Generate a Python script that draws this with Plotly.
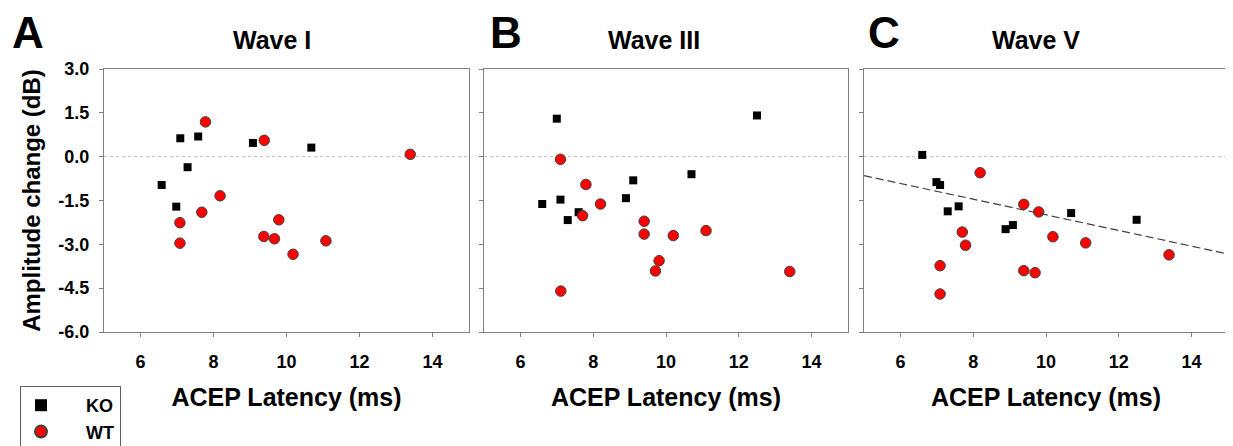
import plotly.graph_objects as go

# ---------------- data ----------------
# Wave I
a_ko_x = [7.09, 7.58, 9.08, 10.68, 7.29, 6.58, 6.98]
a_ko_y = [0.63, 0.69, 0.47, 0.31, -0.36, -0.97, -1.71]
a_wt_x = [7.78, 9.39, 13.39, 8.18, 7.68, 7.08, 7.08, 9.79, 9.38, 9.67, 10.18, 11.08]
a_wt_y = [1.19, 0.56, 0.08, -1.34, -1.90, -2.26, -2.96, -2.16, -2.73, -2.81, -3.34, -2.88]
# Wave III
b_ko_x = [7.00, 12.50, 10.70, 9.10, 8.90, 7.10, 6.60, 7.60, 7.30]
b_ko_y = [1.30, 1.41, -0.60, -0.81, -1.42, -1.47, -1.62, -1.90, -2.17]
b_wt_x = [7.10, 7.80, 8.20, 7.71, 9.40, 9.40, 10.20, 11.10, 9.81, 9.71, 13.40, 7.11]
b_wt_y = [-0.09, -0.95, -1.62, -2.02, -2.21, -2.65, -2.70, -2.53, -3.56, -3.91, -3.93, -4.60]
# Wave V
c_ko_x = [6.60, 6.99, 7.09, 7.30, 7.60, 8.89, 9.09, 10.69, 12.49]
c_ko_y = [0.06, -0.87, -0.97, -1.87, -1.70, -2.48, -2.34, -1.93, -2.16]
c_wt_x = [8.19, 9.39, 9.80, 7.70, 7.79, 10.19, 11.09, 13.38, 7.09, 9.39, 9.70, 7.09]
c_wt_y = [-0.55, -1.63, -1.89, -2.58, -3.03, -2.74, -2.95, -3.36, -3.73, -3.90, -3.97, -4.70]
# regression line (Wave V)
c_fit_x = [5.0, 15.0]
c_fit_y = [-0.65, -3.33]

panel_titles = ["Wave I", "Wave III", "Wave V"]
panel_letters = ["A", "B", "C"]
x_ticks = [6, 8, 10, 12, 14]
y_ticks = [3.0, 1.5, 0.0, -1.5, -3.0, -4.5, -6.0]
y_ticklabels = ["3.0", "1.5", "0.0", "-1.5", "-3.0", "-4.5", "-6.0"]
x_title = "ACEP Latency (ms)"
y_title = "Amplitude change (dB)"

# ---------------- figure ----------------
# the page body has an 8px default margin, so the figure is drawn 8px in
OFF = 8
W, H = 1233 - OFF, 446 - OFF
FONT = "Liberation Sans, Arial, sans-serif"
FRAME = "#808080"


def fx(px):
    return (px - OFF) / W


def fy(py):
    return 1 - (py - OFF) / H


panels = [
    (a_ko_x, a_ko_y, a_wt_x, a_wt_y),
    (b_ko_x, b_ko_y, b_wt_x, b_wt_y),
    (c_ko_x, c_ko_y, c_wt_x, c_wt_y),
]
xdomains = [(fx(104), fx(469)), (fx(484), fx(848)), (fx(864), fx(1228))]
ydomain = (fy(332), fy(69))

fig = go.Figure()

for i, (kx, ky, wx, wy) in enumerate(panels):
    xa = "x" if i == 0 else f"x{i+1}"
    ya = "y" if i == 0 else f"y{i+1}"
    fig.add_trace(go.Scatter(
        x=kx, y=ky, mode="markers", name="\u00a0" * 5 + "<b>KO</b>",
        marker=dict(symbol="square", size=8, color="black", line=dict(width=0)),
        xaxis=xa, yaxis=ya, showlegend=(i == 0), legendgroup="ko"))
    fig.add_trace(go.Scatter(
        x=wx, y=wy, mode="markers", name="\u00a0" * 5 + "<b>WT</b>",
        marker=dict(symbol="circle", size=10.5, color="#ff0000",
                    line=dict(width=1, color="#404040")),
        xaxis=xa, yaxis=ya, showlegend=(i == 0), legendgroup="wt"))

fig.add_trace(go.Scatter(
    x=c_fit_x, y=c_fit_y, mode="lines", showlegend=False,
    line=dict(color="#404040", width=1.2, dash="8px,4px"),
    xaxis="x3", yaxis="y3"))

layout = dict(
    template="none",
    width=W, height=H,
    margin=dict(l=0, r=0, t=0, b=0, autoexpand=False),
    paper_bgcolor="white", plot_bgcolor="white",
    font=dict(family=FONT, color="black"),
    showlegend=True,
    legend=dict(
        x=fx(20), y=fy(386), xanchor="left", yanchor="top",
        bordercolor="#606060", borderwidth=1, bgcolor="white",
        font=dict(family=FONT, size=18, color="black"),
        itemsizing="constant", tracegroupgap=0,
    ),
)

for i in range(3):
    xk = "xaxis" if i == 0 else f"xaxis{i+1}"
    yk = "yaxis" if i == 0 else f"yaxis{i+1}"
    layout[xk] = dict(
        domain=list(xdomains[i]), range=[5, 15], anchor="y" if i == 0 else f"y{i+1}",
        automargin=False,
        tickvals=x_ticks, ticktext=[str(v) for v in x_ticks],
        ticks="outside", ticklen=4, tickcolor=FRAME, tickwidth=1,
        showline=True, linecolor=FRAME, linewidth=1, mirror=True,
        showgrid=False, zeroline=False,
        tickfont=dict(family=FONT, size=18, color="black", weight="bold"),
        ticklabelstandoff=9,
        title=dict(text=x_title, standoff=17,
                   font=dict(family=FONT, size=25, color="black", weight="bold")),
    )
    layout[yk] = dict(
        domain=list(ydomain), range=[-6, 3], anchor="x" if i == 0 else f"x{i+1}",
        automargin=False,
        tickvals=y_ticks, ticktext=y_ticklabels, showticklabels=(i == 0),
        ticks="outside", ticklen=4, tickcolor=FRAME, tickwidth=1,
        showline=True, linecolor=FRAME, linewidth=1, mirror=True,
        showgrid=False, zeroline=False,
        tickfont=dict(family=FONT, size=18, color="black", weight="bold"),
        ticklabelstandoff=6,
    )
layout["yaxis"]["title"] = dict(
    text=y_title, standoff=10,
    font=dict(family=FONT, size=24, color="black", weight="bold"))

fig.update_layout(**layout)

# zero reference lines
for i in range(3):
    xr = "x domain" if i == 0 else f"x{i+1} domain"
    yr = "y" if i == 0 else f"y{i+1}"
    fig.add_shape(type="line", xref=xr, yref=yr, x0=0, x1=1, y0=0, y1=0,
                  line=dict(color="#bdbdbd", width=1, dash="dot"), layer="below")

# panel titles and letters
title_cx = [272, 654, 1036]
letter_x = [10, 488, 866]
for i in range(3):
    fig.add_annotation(text=panel_titles[i], xref="paper", yref="paper",
                       x=fx(title_cx[i]), y=fy(40), xanchor="center", yanchor="middle",
                       showarrow=False,
                       font=dict(family=FONT, size=25, color="black", weight="bold"))
    fig.add_annotation(text=panel_letters[i], xref="paper", yref="paper",
                       x=fx(letter_x[i]), y=fy(33), xanchor="left", yanchor="middle",
                       showarrow=False,
                       font=dict(family=FONT, size=44, color="black", weight="bold"))

fig.write_html("out.html")
